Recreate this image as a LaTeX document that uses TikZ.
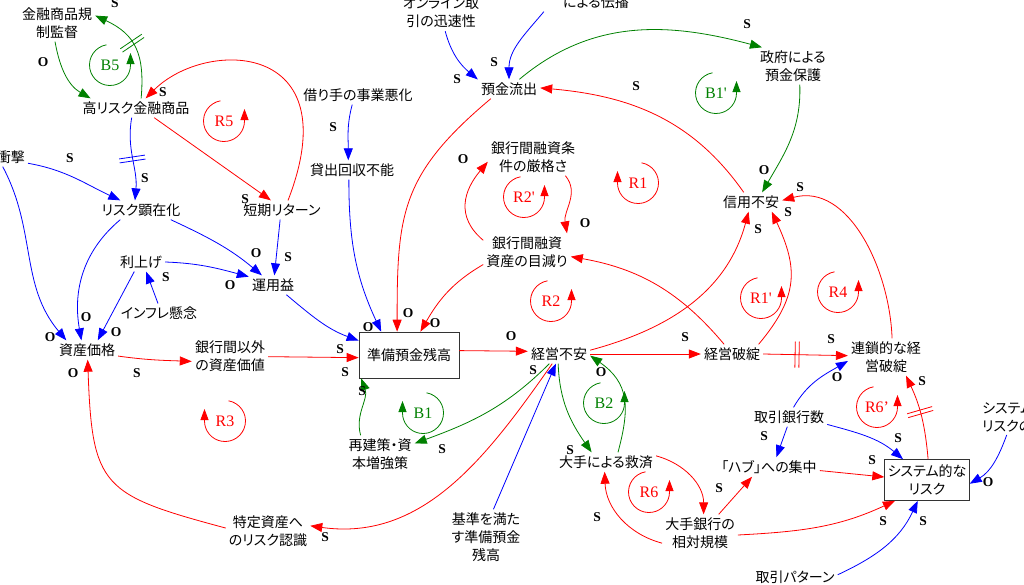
\documentclass[tikz,border=0pt]{standalone}
\usepackage{fontspec}
\setmainfont{Liberation Serif}
\newfontfamily\jp[RawFeature={+palt}]{Noto Sans CJK JP}
\usepackage{tikz}
\usetikzlibrary{arrows.meta}
\usetikzlibrary{decorations.markings}
\definecolor{cldBlue}{RGB}{0,0,255}
\definecolor{cldRed}{RGB}{255,0,0}
\definecolor{cldGreen}{RGB}{0,128,0}
\tikzstyle{var} = [inner sep=3pt, align=center, font=\jp\fontsize{14}{18}\selectfont]
\tikzstyle{stock} = [var, rectangle, draw=black!80, line width=0.7pt]
\tikzstyle{pol} = [inner sep=0pt, font=\fontsize{13.5}{13.5}\selectfont\bfseries]
\tikzstyle{looplbl} = [inner sep=0pt, font=\fontsize{16}{16}\selectfont]
\tikzstyle{link} = [draw, line width=0.8pt, -{Triangle[length=12pt,width=9pt]}]
\tikzstyle{bline} = [link, cldBlue]
\tikzstyle{rline} = [link, cldRed]
\tikzstyle{gline} = [link, cldGreen]
\tikzset{delay/.style={postaction={decorate,decoration={markings,
    mark=at position #1 with {\draw[-,line width=0.8pt] (-2,-13) -- (-2,13) (2,-13) -- (2,13);}}}}}

\begin{document}
\begin{tikzpicture}[x=1pt,y=1pt]
    \useasboundingbox (0,0) rectangle (1024,-584);
    % variables
    \node [var] (kisei) at (57,-23) {金融商品規\\制監督};
    \node [var] (kouRisk) at (136,-108) {高リスク金融商品};
    \node [var, anchor=east] (shougeki) at (28,-157) {衝撃};
    \node [var] (riskKenzai) at (141,-210) {リスク顕在化};
    \node [var] (tanki) at (282,-210) {短期リターン};
    \node [var] (kariteAkka) at (358,-95) {借り手の事業悪化};
    \node [var] (kashidashi) at (352,-170) {貸出回収不能};
    \node [var] (riage) at (141,-262) {利上げ};
    \node [var] (unyou) at (273,-285) {運用益};
    \node [var] (inflation) at (159,-313) {インフレ懸念};
    \node [var] (shisanKakaku) at (87,-350) {資産価格};
    \node [var] (ginkouIgai) at (230,-356) {銀行間以外\\の資産価値};
    \node [var] (tokutei) at (268,-531) {特定資産へ\\のリスク認識};
    \node [stock, minimum width=100, minimum height=46] (junbi) at (409,-355) {準備預金残高};
    \node [var] (saiken) at (380,-454) {再建策・資\\本増強策};
    \node [var] (keieiFuan) at (559,-354) {経営不安};
    \node [var] (kijun) at (486,-537) {基準を満た\\す準備預金\\残高};
    \node [var] (kyuusai) at (606,-462) {大手による救済};
    \node [var] (yokin) at (509,-89) {預金流出};
    \node [var] (online) at (441,-13) {オンライン取\\引の迅速性};
    \node [var] (denpa) at (596,-2) {による伝播};
    \node [var] (kensa) at (533,-157) {銀行間融資条\\件の厳格さ};
    \node [var] (mebari) at (527,-252) {銀行間融資\\資産の目減り};
    \node [var] (seifu) at (793,-66) {政府による\\預金保護};
    \node [var] (shinyou) at (751,-202) {信用不安};
    \node [var] (hatan) at (732,-354) {経営破綻};
    \node [var] (rensa) at (886,-357) {連鎖的な経\\営破綻};
    \node [var] (torihikiSuu) at (789,-417) {取引銀行数};
    \node [var] (hub) at (769,-467) {「ハブ」への集中};
    \node [stock, minimum width=82, minimum height=41] (sysRisk) at (927,-480) {システム的な\\リスク};
    \node [var] (oote) at (700,-533) {大手銀行の\\相対規模};
    \node [var] (pattern) at (795,-577) {取引パターン};
    \node [var, anchor=west, align=left] (sysRiskNo) at (979,-417) {システム\\リスクの};

    % Draw edges
    \path[gline] (kisei.-96) to[out=-80,in=150] (kouRisk.168);
    \path[gline,delay=0.55] (kouRisk.62) to[out=85,in=-25,looseness=1.2] (kisei.11);
    \path[rline] (tanki.58) .. controls +(62,160) and +(60,60) .. (kouRisk.45);
    \path[rline] (kouRisk.-28) -- (tanki.139);
    \path[bline,delay=0.5] (kouRisk.-114) to[out=-100,in=85] (riskKenzai.122);
    \path[bline] (shougeki.-20) to[out=-10,in=155] (riskKenzai.155);
    \path[bline] (shougeki.-130) to[out=-62,in=130] (shisanKakaku.155);
    \path[bline] (riskKenzai.-155) to[out=-140,in=100] (shisanKakaku.120);
    \path[bline] (riage.-125) -- (shisanKakaku.42);
    \path[bline] (riage.0) to[out=-2,in=165] (unyou.161);
    \path[bline] (inflation.96) -- (riage.-62);
    \path[bline] (riskKenzai.-18) to[out=-25,in=140] (unyou.139);
    \path[bline] (tanki.-101) -- (unyou.82);
    \path[bline] (unyou.-36) to[out=-40,in=160] (junbi.164);
    \path[bline] (kariteAkka.-121) to[out=-105,in=90] (kashidashi.111);
    \path[bline] (kashidashi.-108) to[out=-90,in=115] (junbi.140);
    \path[rline] (yokin.-152) to[out=-140,in=90,looseness=1.2] (junbi.117);
    \path[rline] (mebari.-164) to[out=-150,in=60] (junbi.64);
    \path[rline] (junbi.5) -- (keieiFuan.175);
    \path[rline] (keieiFuan.7) to[out=15,in=-105] (shinyou.-104);
    \path[rline] (keieiFuan.0) -- (hatan.180);
    \path[rline] (hatan.129) to[out=130,in=-10] (mebari.-6);
    \path[rline] (hatan.20) to[out=50,in=-65,looseness=1.2] (shinyou.-25);
    \path[rline] (rensa.72) to[out=92,in=15] (shinyou.3);
    \path[rline,delay=0.4] (hatan.0) -- (rensa.178);
    \path[rline] (shinyou.127) to[out=125,in=-5] (yokin.2);
    \path[gline] (yokin.43) to[out=40,in=165] (seifu.149);
    \path[gline] (seifu.-70) to[out=-88,in=60] (shinyou.41);
    \path[bline] (online.-77) to[out=-75,in=140] (yokin.163);
    \path[bline] ([xshift=-16pt]denpa.south west) to[out=-130,in=90] (yokin.90);
    \path[rline] (mebari.165) to[out=140,in=-130,looseness=1.2] (kensa.-174);
    \path[rline] (kensa.-30) to[out=-50,in=100] (mebari.25);
    \path[gline] (keieiFuan.-135) to[out=-135,in=20] (saiken.17);
    \path[gline] (saiken.136) to[out=105,in=-70] (junbi.-154);
    \path[gline] (keieiFuan.-95) to[out=-88,in=125] (kyuusai.146);
    \path[gline] (kyuusai.39) to[out=75,in=-35,looseness=1.2] (keieiFuan.-3);
    \path[rline] (tokutei.176) to[out=165,in=-88,looseness=1.5] (shisanKakaku.-86);
    \path[rline] (keieiFuan.-125) to[out=-125,in=-8] (tokutei.7);
    \path[bline] (kijun.75) -- (keieiFuan.-108);
    \path[rline] (ginkouIgai.-1) -- (junbi.-177);
    \path[rline] (shisanKakaku.-11) to[out=-8,in=178] (ginkouIgai.-172);
    \path[rline] (kyuusai.7) to[out=-15,in=90] (oote.79);
    \path[rline] (oote.-165) to[out=165,in=-88] (kyuusai.-98);
    \path[rline] (oote.45) -- (hub.-150);
    \path[bline] (torihikiSuu.-100) -- (hub.53);
    \path[bline] (torihikiSuu.65) to[out=60,in=-150] (rensa.-174);
    \path[bline] (torihikiSuu.-11) to[out=-15,in=140] (sysRisk.139);
    \path[rline] (hub.-4) -- (sysRisk.176);
    \path[rline] (oote.-3) to[out=3,in=-155] (sysRisk.-147);
    \path[bline] (pattern.3) to[out=25,in=-115] (sysRisk.-114);
    \path[bline] (sysRiskNo.-93) to[out=-110,in=30] (sysRisk.-5);
    \path[rline,delay=0.55] (sysRisk.87) to[out=95,in=-65] (rensa.-43);

    % polarities
    \foreach \px/\py/\pt [count=\i] in {43/62/O, 115/3/S, 163/92/S, 245/199/S, 145/178/S,
        70/158/S, 50/337/O, 86/317/O, 116/332/O, 230/285/O, 166/277/S, 256/253/O,
        288/257/S, 340/349/S, 333/127/S, 368/327/O, 408/313/O, 435/323/O, 511/336/O,
        758/229/S, 685/337/S, 788/212/S, 800/187/S, 831/339/S, 636/86/S, 747/24/S,
        764/170/O, 457/79/S, 494/62/S, 463/159/O, 585/223/O, 442/449/S, 362/391/S,
        570/450/S, 601/372/O, 73/373/O, 325/537/S, 533/370/S, 345/372/S, 137/373/S,
        597/517/S, 719/488/S, 764/436/S, 837/377/O, 898/438/S, 872/460/S, 883/521/S,
        923/521/S, 988/482/O, 922/381/S}
        \node [pol] (pol\i) at (\px,-\py) {\pt};

    % loops, arrow on the right
    \foreach \cx/\cy/\lab/\col/\nm in {110/65/B5/cldGreen/B5, 224/121/R5/cldRed/R5,
        524/197/R2\textquotesingle/cldRed/R2p, 716/93/B1\textquotesingle/cldGreen/B1p,
        551/301/R2/cldRed/R2, 761/298/R1\textquotesingle/cldRed/R1p, 838/292/R4/cldRed/R4,
        604/403/B2/cldGreen/B2, 649/492/R6/cldRed/R6, 877/407/R6’/cldRed/R6p}{
        \node [looplbl, text=\col] (loop\nm) at (\cx,-\cy) {\lab};
        \draw[\col, line width=0.8pt, -{Triangle[length=11pt,width=8pt]}] (loop\nm.center) ++(100:20.5)
            arc[start angle=100, end angle=360, radius=20.5] -- ++(0,12);
    }
    % loops, arrow on the left
    \foreach \cx/\cy/\lab/\col/\nm in {638/183/R1/cldRed/R1, 225/421/R3/cldRed/R3,
        423/413/B1/cldGreen/B1}{
        \node [looplbl, text=\col] (loop\nm) at (\cx,-\cy) {\lab};
        \draw[\col, line width=0.8pt, -{Triangle[length=11pt,width=8pt]}] (loop\nm.center) ++(80:20.5)
            arc[start angle=80, end angle=-180, radius=20.5] -- ++(0,12);
    }
\end{tikzpicture}
\end{document}
